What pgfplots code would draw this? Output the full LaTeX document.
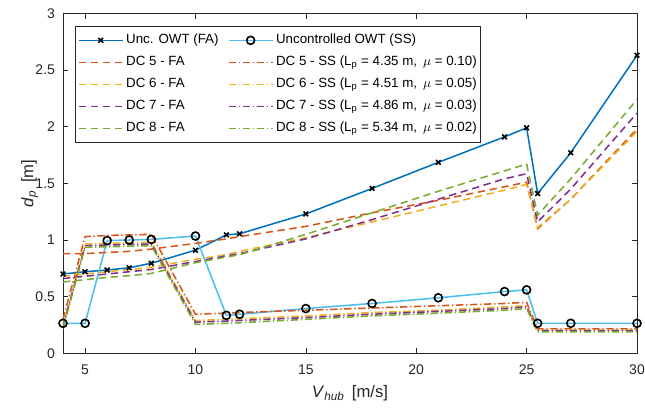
\documentclass[border=0pt]{standalone}
\usepackage{fontspec}
\setmainfont{Liberation Sans}
\usepackage{pgfplots}
\usepackage{pgfplotstable}
\pgfplotsset{compat=1.18}
\definecolor{mblue}{rgb}{0,0.447,0.741}
\definecolor{mcyan}{rgb}{0.301,0.745,0.933}
\definecolor{morange}{rgb}{0.850,0.325,0.098}
\definecolor{myellow}{rgb}{0.929,0.694,0.125}
\definecolor{mpurple}{rgb}{0.494,0.184,0.556}
\definecolor{mgreen}{rgb}{0.466,0.674,0.188}
\definecolor{mgray}{rgb}{0.15,0.15,0.15}

\pgfplotstableread{
x    fa    ss    dfa5  dss5  dfa6  dss6  dfa7  dss7  dfa8  dss8
4    0.70  0.265 0.88  0.30  0.68  0.25  0.66  0.235 0.63  0.22
5    0.72  0.265 0.88  1.03  0.70  0.965 0.68  0.95  0.65  0.935
6    0.735 0.995 0.89  1.04  0.72  0.97  0.70  0.955 0.67  0.94
7    0.755 1.00  0.90  1.045 0.74  0.975 0.72  0.96  0.685 0.945
8    0.795 1.005 0.92  1.05  0.76  0.98  0.74  0.965 0.705 0.95
10   0.91  1.035 0.97  0.345 0.83  0.29  0.81  0.275 0.80  0.255
11.4 1.045 0.335 1.01  0.355 0.87  0.30  0.86  0.285 0.85  0.265
12   1.055 0.345 1.03  0.36  0.90  0.305 0.88  0.29  0.87  0.27
15   1.23  0.395 1.12  0.38  1.02  0.33  1.01  0.315 1.05  0.30
18   1.455 0.44  1.24  0.40  1.16  0.36  1.18  0.345 1.24  0.33
21   1.685 0.49  1.35  0.42  1.30  0.38  1.36  0.37  1.43  0.355
24   1.91  0.545 1.47  0.44  1.44  0.41  1.54  0.395 1.61  0.38
25   1.99  0.56  1.51  0.45  1.49  0.42  1.585 0.41  1.67  0.395
25.5 1.41  0.265 1.10  0.215 1.11  0.205 1.16  0.20  1.22  0.19
27   1.77  0.265 1.36  0.215 1.36  0.205 1.45  0.20  1.54  0.19
30   2.63  0.265 1.98  0.215 1.96  0.205 2.12  0.20  2.24  0.19
}\data

\begin{document}
\begin{tikzpicture}
\begin{axis}[
  scale only axis,
  width=430.5pt, height=255pt,
  xmin=4, xmax=30, ymin=0, ymax=3,
  xtick={5,10,15,20,25,30},
  ytick={0,0.5,1,1.5,2,2.5,3},
  tick align=inside,
  major tick length=4pt,
  axis line style={mgray, line width=0.5pt},
  tick style={mgray, line width=0.5pt},
  /pgf/number format/assume math mode=true,
  ticklabel style={font=\fontsize{10.5}{12}\selectfont, text=mgray},
  xticklabel style={yshift=-5pt},
  yticklabel style={xshift=-2.5pt},
  xlabel={\textit{V}\textsubscript{\textit{hub}}\, [m/s]},
  ylabel={\textit{d}\textsubscript{\textit{p}}\, [m]},
  label style={font=\fontsize{12.5}{14}\selectfont, text=mgray},
  xlabel style={at={(axis description cs:0.5,-0.118)}, anchor=center},
  ylabel style={at={(axis description cs:-0.058,0.5)}, anchor=center},
  legend columns=2,
  legend cell align=left,
  legend image code/.code={\draw[mark repeat=2,mark phase=2] plot coordinates {(0pt,0pt) (16.5pt,0pt) (33pt,0pt)};},
  legend style={at={(axis description cs:0,1)}, anchor=north west, xshift=9pt, yshift=-9.75pt,
    draw=mgray, line width=0.5pt, inner xsep=2pt, inner ysep=3.5pt,
    font=\fontsize{10}{12}\selectfont, text=black,
    nodes={inner sep=1pt, text height=8pt, text depth=3.5pt},
    row sep=3pt,
    /tikz/every odd column/.append style={column sep=1pt},
    /tikz/every even column/.append style={column sep=6pt}},
  every axis plot/.append style={line width=1.15pt},
]
\addplot[mblue, mark=x, mark size=2.5pt, mark options={black, solid, line width=1.2pt}] table[x=x, y=fa] {\data};
\addlegendentry{Unc. OWT (FA)}
\addplot[mcyan, mark=o, mark size=3pt, mark options={black, solid, line width=1.2pt}] table[x=x, y=ss] {\data};
\addlegendentry{Uncontrolled OWT (SS)}
\addplot[morange, dash pattern=on 5.5pt off 3.5pt] table[x=x, y=dfa5] {\data};
\addlegendentry{DC 5 - FA}
\addplot[morange, dash pattern=on 5.5pt off 2pt on 1pt off 2pt] table[x=x, y=dss5] {\data};
\addlegendentry{DC 5 - SS (L\textsubscript{p} = 4.35 m,\, $\mu$ = 0.10)}
\addplot[myellow, dash pattern=on 5.5pt off 3.5pt] table[x=x, y=dfa6] {\data};
\addlegendentry{DC 6 - FA}
\addplot[myellow, dash pattern=on 5.5pt off 2pt on 1pt off 2pt] table[x=x, y=dss6] {\data};
\addlegendentry{DC 6 - SS (L\textsubscript{p} = 4.51 m,\, $\mu$ = 0.05)}
\addplot[mpurple, dash pattern=on 5.5pt off 3.5pt] table[x=x, y=dfa7] {\data};
\addlegendentry{DC 7 - FA}
\addplot[mpurple, dash pattern=on 5.5pt off 2pt on 1pt off 2pt] table[x=x, y=dss7] {\data};
\addlegendentry{DC 7 - SS (L\textsubscript{p} = 4.86 m,\, $\mu$ = 0.03)}
\addplot[mgreen, dash pattern=on 5.5pt off 3.5pt] table[x=x, y=dfa8] {\data};
\addlegendentry{DC 8 - FA}
\addplot[mgreen, dash pattern=on 5.5pt off 2pt on 1pt off 2pt] table[x=x, y=dss8] {\data};
\addlegendentry{DC 8 - SS (L\textsubscript{p} = 5.34 m,\, $\mu$ = 0.02)}
\coordinate (ll) at (rel axis cs:0,0);
\coordinate (ur) at (rel axis cs:1,1);
\end{axis}
\pgfresetboundingbox
\path[use as bounding box] ([xshift=-47.25pt,yshift=-40.3pt]ll) rectangle ([xshift=6pt,yshift=10pt]ur);
\end{tikzpicture}
\end{document}
